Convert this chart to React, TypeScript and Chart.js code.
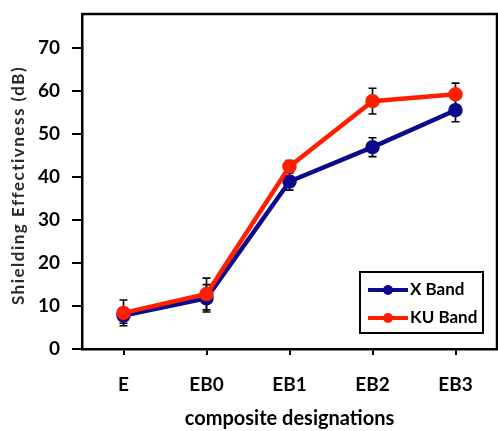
import React, { useEffect, useRef } from "react";
import { Chart, registerables } from "chart.js";

Chart.register(...registerables);

const categories = ["E", "EB0", "EB1", "EB2", "EB3"];
const xBand = [7.8, 11.8, 39.0, 47.0, 55.6];
const xBandErr = [1.8, 3.2, 2.0, 2.2, 2.7];
const kuBand = [8.4, 12.8, 42.5, 57.7, 59.3];
const kuBandErr = [3.0, 3.7, 1.4, 3.0, 2.6];
const yTicks = [0, 10, 20, 30, 40, 50, 60, 70];
const seriesNames = ["X Band", "KU Band"];
const xTitle = "composite designations";
const yTitle = "Shielding Effectivness (dB)";

const BLUE = "#0b0b8c";
const RED = "#ff1f00";
const FONT = "Lato, 'Open Sans', sans-serif";

const errorBarPlugin = {
  id: "errorBars",
  beforeDatasetsDraw(chart: any) {
    const { ctx } = chart;
    const yScale = chart.scales.y;
    const errs = [xBandErr, kuBandErr];
    const vals = [xBand, kuBand];
    ctx.save();
    ctx.strokeStyle = "#000";
    ctx.lineWidth = 1.6;
    chart.data.datasets.forEach((_ds: any, di: number) => {
      const meta = chart.getDatasetMeta(di);
      meta.data.forEach((pt: any, i: number) => {
        const x = pt.x;
        const yTop = yScale.getPixelForValue(vals[di][i] + errs[di][i]);
        const yBot = yScale.getPixelForValue(vals[di][i] - errs[di][i]);
        ctx.beginPath();
        ctx.moveTo(x, yTop);
        ctx.lineTo(x, yBot);
        ctx.moveTo(x - 4, yTop);
        ctx.lineTo(x + 4, yTop);
        ctx.moveTo(x - 4, yBot);
        ctx.lineTo(x + 4, yBot);
        ctx.stroke();
      });
    });
    ctx.restore();
  },
};

const framePlugin = {
  id: "frameAndLegend",
  afterDraw(chart: any) {
    const { ctx, chartArea } = chart;
    const { left, right, top, bottom } = chartArea;
    ctx.save();
    ctx.strokeStyle = "#000";
    ctx.lineWidth = 2.5;
    ctx.beginPath();
    ctx.moveTo(left, top);
    ctx.lineTo(right, top);
    ctx.lineTo(right, bottom);
    ctx.stroke();

    // y axis title (letter-spaced)
    ctx.save();
    ctx.translate(19, (top + bottom) / 2 + 4);
    ctx.rotate(-Math.PI / 2);
    ctx.fillStyle = "#2a2a2a";
    ctx.font = `bold 17px ${FONT}`;
    (ctx as any).letterSpacing = "1.5px";
    ctx.textAlign = "center";
    ctx.textBaseline = "middle";
    ctx.fillText(yTitle, 0, 0);
    ctx.restore();

    // legend box
    const bx = right - 137;
    const by = bottom - 77;
    const bw = 123;
    const bh = 61;
    ctx.fillStyle = "#fff";
    ctx.fillRect(bx, by, bw, bh);
    ctx.lineWidth = 2;
    ctx.strokeStyle = "#000";
    ctx.strokeRect(bx, by, bw, bh);
    const colors = [BLUE, RED];
    const rows = [by + 18, by + 46];
    rows.forEach((ry, i) => {
      ctx.strokeStyle = colors[i];
      ctx.fillStyle = colors[i];
      ctx.lineWidth = 4;
      ctx.beginPath();
      ctx.moveTo(bx + 8, ry);
      ctx.lineTo(bx + 48, ry);
      ctx.stroke();
      ctx.beginPath();
      ctx.arc(bx + 28, ry, 5, 0, Math.PI * 2);
      ctx.fill();
      ctx.fillStyle = "#000";
      ctx.font = `bold 17px ${FONT}`;
      ctx.textBaseline = "middle";
      ctx.textAlign = "left";
      ctx.fillText(seriesNames[i], bx + 50, ry);
    });
    ctx.restore();
  },
};

export default function App() {
  const ref = useRef<HTMLCanvasElement | null>(null);
  useEffect(() => {
    document.body.style.margin = "0";
    const canvas = ref.current;
    if (!canvas) return;
    const chart = new Chart(canvas, {
      type: "line",
      data: {
        labels: categories,
        datasets: [
          {
            label: seriesNames[0],
            data: xBand,
            borderColor: BLUE,
            backgroundColor: BLUE,
            pointBackgroundColor: BLUE,
            pointBorderColor: BLUE,
            borderWidth: 4.5,
            pointRadius: 5,
            tension: 0,
            order: 2,
          },
          {
            label: seriesNames[1],
            data: kuBand,
            borderColor: RED,
            backgroundColor: RED,
            pointBackgroundColor: RED,
            pointBorderColor: RED,
            borderWidth: 4.5,
            pointRadius: 5,
            tension: 0,
            order: 1,
          },
        ],
      },
      options: {
        animation: false,
        responsive: true,
        maintainAspectRatio: false,
        layout: {
          autoPadding: false,
          padding: { top: 14, right: 1, left: 0, bottom: 0 },
        },
        plugins: {
          legend: { display: false },
          tooltip: { enabled: false },
        },
        scales: {
          x: {
            type: "category",
            offset: true,
            grid: {
              display: true,
              drawOnChartArea: false,
              drawTicks: true,
              tickLength: 6,
              color: "#000",
              lineWidth: 2,
            },
            border: { display: true, color: "#000", width: 2.5 },
            ticks: {
              color: "#000",
              font: { family: FONT, size: 19, weight: "bold" },
              padding: 18,
            },
            title: {
              display: true,
              text: xTitle,
              color: "#000",
              font: { family: FONT, size: 20, weight: "bold" },
              padding: { top: 0, bottom: 0 },
            },
            afterFit: (scale: any) => {
              scale.height = 82;
              scale.paddingLeft = 0;
              scale.paddingRight = 0;
            },
          },
          y: {
            min: 0,
            max: 78,
            grid: {
              display: true,
              drawOnChartArea: false,
              drawTicks: true,
              tickLength: 10,
              color: "#000",
              lineWidth: 2,
            },
            border: { display: true, color: "#000", width: 2.5 },
            ticks: {
              stepSize: 10,
              color: "#000",
              font: { family: FONT, size: 19, weight: "bold" },
              padding: 12,
            },
            afterBuildTicks: (scale: any) => {
              scale.ticks = yTicks.map((v) => ({ value: v }));
            },
            afterFit: (scale: any) => {
              scale.width = 82;
              scale.paddingTop = 0;
              scale.paddingBottom = 0;
            },
          },
        },
      },
      plugins: [errorBarPlugin, framePlugin],
    } as any);
    return () => chart.destroy();
  }, []);
  return (
    <div style={{ width: 498, height: 431, position: "relative" }}>
      <canvas ref={ref} />
    </div>
  );
}
